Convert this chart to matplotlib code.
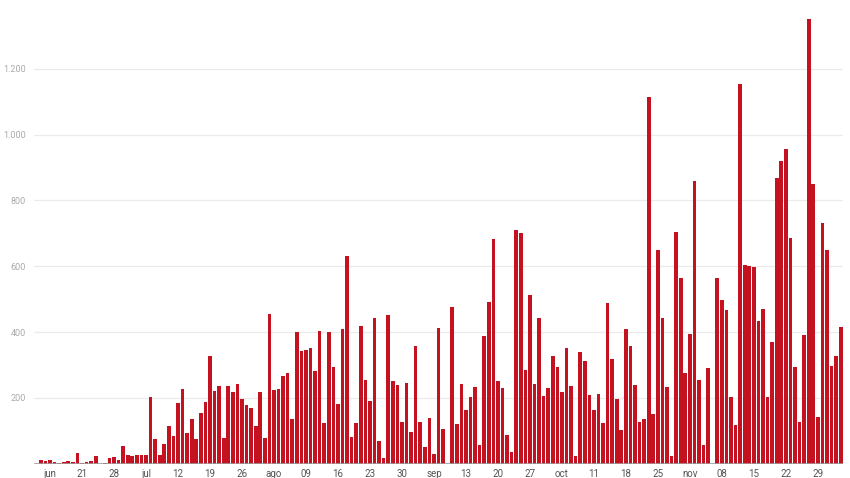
import numpy as np
import pandas as pd
import matplotlib
matplotlib.use("Agg")
import matplotlib.pyplot as plt
from matplotlib.ticker import FuncFormatter

plt.rcParams['font.family'] = ['Roboto', 'DejaVu Sans']

start_date = '2021-06-11'
end_date = '2021-12-04'

values = [
    0, 11, 8, 10, 5, 2, 6, 8, 5, 31, 2, 5, 8, 22, 0, 3, 17, 21, 11, 54,
    25, 23, 25, 26, 26, 204, 75, 27, 61, 114, 84, 184, 227, 92, 136, 74, 155, 187, 326, 220,
    235, 77, 235, 218, 243, 197, 179, 168, 116, 218, 78, 456, 224, 227, 267, 275, 136, 400, 341, 346,
    352, 281, 403, 123, 400, 293, 181, 410, 632, 81, 124, 418, 253, 190, 442, 69, 17, 453, 251, 240,
    127, 245, 96, 358, 127, 52, 139, 30, 413, 106, 0, 476, 120, 242, 163, 202, 232, 57, 388, 491,
    684, 251, 229, 87, 35, 709, 701, 284, 514, 241, 442, 206, 229, 327, 293, 219, 351, 235, 22, 340,
    313, 208, 162, 212, 125, 489, 318, 196, 103, 410, 358, 239, 127, 135, 1115, 151, 650, 444, 234, 22,
    705, 564, 275, 395, 860, 255, 57, 291, 0, 564, 498, 466, 204, 117, 1154, 604, 601, 599, 434, 469,
    202, 370, 869, 921, 957, 685, 293, 127, 392, 1351, 851, 143, 732, 648, 297, 328, 415,
]

tick_labels = ['jun', '21', '28', 'jul', '12', '19', '26', 'ago', '09', '16', '23', '30',
               'sep', '13', '20', '27', 'oct', '11', '18', '25', 'nov', '08', '15', '22', '29']

y_ticks = [200, 400, 600, 800, 1000, 1200]

dates = pd.date_range(start_date, end_date, freq='D')
x = np.arange(len(dates))

fig = plt.figure(figsize=(8.5, 4.78), dpi=100)
ax = fig.add_axes([34 / 850, 14.3 / 478, 809 / 850, 463.7 / 478])

ax.bar(x, values, width=0.8, color='#c41220', edgecolor='none', zorder=3)

ax.set_xlim(-0.5, len(dates) - 0.5)
ax.set_ylim(0, 1409)

mondays = [i for i, d in enumerate(dates) if d.weekday() == 0][:len(tick_labels)]
ax.set_xticks(mondays)
ax.set_xticklabels(tick_labels)
ax.set_yticks(y_ticks)
ax.yaxis.set_major_formatter(FuncFormatter(lambda v, p: f"{int(v):,}".replace(',', '.')))

ax.grid(axis='y', color='#ebebeb', linewidth=0.9, zorder=0)
ax.axhline(0, color='#9e9e9e', linewidth=1.2, zorder=4)

for s in ['top', 'right', 'left', 'bottom']:
    ax.spines[s].set_visible(False)

ax.tick_params(axis='x', length=0, labelsize=7, colors='#555555', pad=4)
ax.tick_params(axis='y', length=0, labelsize=6.5, colors='#aaaaaa', pad=6)

fig.savefig('out.png', dpi=100, facecolor='white')
